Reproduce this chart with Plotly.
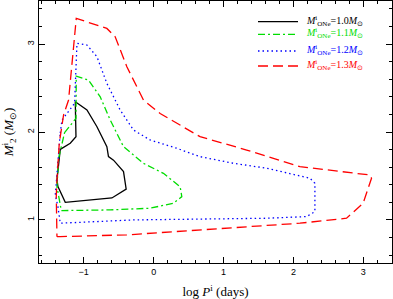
import plotly.graph_objects as go

# Data (log P in days, M2 in Msun)
x_10 = [-1.336, -1.193, -1.111, -1.121, -0.954, -0.811, -0.669, -0.646, -0.574, -0.431, -0.393, -0.597, -1.264, -1.369, -1.383, -1.336]
y_10 = [1.803, 1.872, 1.947, 2.344, 2.25, 2.06, 1.833, 1.72, 1.68, 1.55, 1.35, 1.25, 1.20, 1.38, 1.455, 1.803]

x_11 = [-1.274, -1.111, -1.107, -0.931, -0.764, -0.621, -0.431, -0.146, 0.14, 0.379, 0.403, 0.283, -0.05, -0.621, -1.321, -1.383, -1.36, -1.274]
y_11 = [1.992, 2.156, 2.636, 2.59, 2.40, 2.136, 1.833, 1.644, 1.53, 1.378, 1.265, 1.19, 1.133, 1.114, 1.106, 1.378, 1.70, 1.992]

x_12 = [-1.336, -1.311, -1.131, -1.097, -0.954, -0.811, -0.669, -0.479, -0.289, -0.05, 0.331, 0.664, 1.14, 1.617, 2.236, 2.307, 2.307, 2.189, 1.617, 0.664, -0.289, -1.336, -1.369, -1.407, -1.336]
y_12 = [1.988, 2.136, 2.326, 3.008, 2.989, 2.856, 2.553, 2.25, 2.023, 1.909, 1.815, 1.72, 1.644, 1.588, 1.474, 1.417, 1.094, 1.038, 1.019, 1.008, 1.0, 0.9625, 1.151, 1.284, 1.988]

x_13 = [-1.383, -1.336, -0.383, 0.664, 2.093, 2.76, 2.997, 3.117, 3.093, 2.093, 1.331, 0.664, 0.093, -0.146, -0.383, -0.55, -0.669, -1.107, -1.169, -1.217, -1.289, -1.35, -1.383, -1.393, -1.383]
y_13 = [0.81, 0.81, 0.83, 0.886, 0.9625, 1.019, 1.19, 1.474, 1.511, 1.606, 1.795, 1.947, 2.21, 2.364, 2.742, 3.083, 3.178, 3.292, 2.742, 2.364, 2.193, 1.872, 1.455, 1.265, 0.81]

labels = ["1.0", "1.1", "1.2", "1.3"]
colors = ["#000000", "#00dd00", "#0000ff", "#ff0000"]
dashes = ["solid", "7px,3px,2px,3px", "1.5px,3px", "10px,5px"]
series = [(x_10, y_10), (x_11, y_11), (x_12, y_12), (x_13, y_13)]

x_major = [-1, 0, 1, 2, 3]
y_major = [1, 2, 3]
x_minor = [round(-1.6 + 0.2 * i, 1) for i in range(26)]
y_minor = [round(0.6 + 0.2 * i, 1) for i in range(15)]
XR = [-1.64, 3.41]
YR = [0.51, 3.49]

fig = go.Figure()
for (xs, ys), c, d in zip(series, colors, dashes):
    fig.add_trace(go.Scatter(x=xs, y=ys, mode="lines",
                             line=dict(color=c, width=1.3, dash=d),
                             showlegend=False, hoverinfo="skip"))

# Manual legend
W, H = 393, 299
L, R, T, B = 39, 1, 1, 36
pw, ph = W - L - R, H - T - B
def px(xp): return (xp - L) / pw
def py(yp): return (H - B - yp) / ph

rows = [21.7, 34.3, 51, 66]
for lab, c, d, r in zip(labels, colors, dashes, rows):
    fig.add_shape(type="line", xref="paper", yref="paper",
                  x0=px(258), x1=px(298), y0=py(r), y1=py(r),
                  line=dict(color=c, width=1.3, dash=d))
    fig.add_annotation(xref="paper", yref="paper", x=px(304), y=py(r - 1),
                       xanchor="left", yanchor="middle", showarrow=False,
                       text=f"<i>M</i><sup>i</sup><sub>ONe</sub>={lab}<i>M</i><sub>⊙</sub>",
                       font=dict(family="Liberation Serif", size=10, color=c))

tickfont = dict(family="Liberation Sans", size=9, color="black")
base = dict(showline=True, linecolor="black", linewidth=1, mirror="allticks",
            ticks="inside", tickcolor="black", tickwidth=1,
            showgrid=False, zeroline=False, automargin=False, tickmode="array")

# minor ticks (main axes, no labels)
fig.update_xaxes(range=XR, tickvals=x_minor, ticklen=3, showticklabels=False, **base)
fig.update_yaxes(range=YR, tickvals=y_minor, ticklen=3, showticklabels=False, **base)

# major ticks with labels and titles (overlay axes)
fig.update_layout(
    xaxis2=dict(overlaying="x", side="bottom", range=XR, tickvals=x_major,
                ticktext=[("−1" if v == -1 else str(v)) for v in x_major],
                ticklen=6, tickfont=tickfont, anchor="y",
                title=dict(text="log <i>P</i><sup>i</sup> (days)",
                           font=dict(family="Liberation Serif", size=13, color="black")),
                **base),
    yaxis2=dict(overlaying="y", side="left", range=YR, tickvals=y_major,
                ticktext=[str(v) for v in y_major], tickangle=-90,
                ticklen=6, tickfont=tickfont, anchor="x",
                title=dict(text="<i>M</i><sup>i</sup><sub>2</sub> (<i>M</i><sub>⊙</sub>)",
                           font=dict(family="Liberation Serif", size=13, color="black")),
                **base),
)
fig.add_trace(go.Scatter(x=[None], y=[None], xaxis="x2", yaxis="y2",
                         showlegend=False, hoverinfo="skip"))

fig.update_layout(width=W, height=H, margin=dict(l=L, r=R, t=T, b=B),
                  plot_bgcolor="white", paper_bgcolor="white")
fig.write_html("out.html", config={"displayModeBar": False, "staticPlot": True},
               post_script="document.body.style.margin='0';document.body.style.overflow='hidden';")
